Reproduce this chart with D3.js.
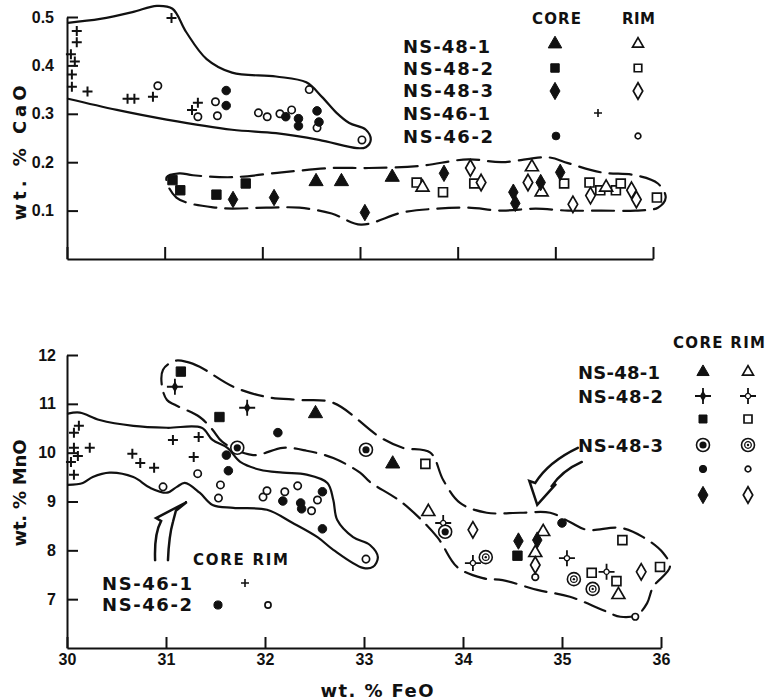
<!doctype html>
<html lang="en">
<head>
	<meta charset="utf-8">
	<title>CaO and MnO vs FeO</title>
	<style>
html, body {
	margin: 0;
	padding: 0;
	width: 100%;
	height: 100%;
	overflow: hidden;
	background: #fff;
}
svg {
	display: block;
}
svg text {
	font-family: 'Liberation Sans', Arial, sans-serif;
	font-weight: bold;
	fill: #111;
}
svg text.big {
	font-family: 'DejaVu Sans', sans-serif;
}
.env {
	fill: none;
	stroke: #111;
	stroke-width: 2.2px;
	stroke-linejoin: round;
	stroke-linecap: round;
}
.env.dash {
	stroke-dasharray: 22 9;
}
.arrow {
	fill: none;
	stroke: #111;
	stroke-width: 2.5px;
	stroke-linejoin: miter;
	stroke-linecap: round;
}
	</style>
</head>
<body>
	<div id="container"></div>

	<script src="https://cdnjs.cloudflare.com/ajax/libs/d3/7.8.5/d3.min.js"></script>
	<script>
/* DATA - each point is [wt.% FeO, wt.% oxide] */

var feoTicks = [30, 31, 32, 33, 34, 35, 36];
var caoTicks = [0.1, 0.2, 0.3, 0.4, 0.5];
var mnoTicks = [7, 8, 9, 10, 11, 12];

// upper panel : CaO
var cao46_1 = [[30.04, 0.423], [30.10, 0.471], [30.10, 0.448], [30.08, 0.408], [30.05, 0.381], [30.05, 0.356],
	[30.21, 0.346], [30.62, 0.331], [30.69, 0.331], [30.88, 0.335], [31.07, 0.498], [31.28, 0.308], [31.34, 0.323]];
var cao46_2Core = [[31.63, 0.348], [31.63, 0.317], [32.24, 0.294], [32.37, 0.290], [32.37, 0.275], [32.56, 0.306], [32.58, 0.283]];
var cao46_2Rim = [[30.93, 0.358], [31.34, 0.294], [31.52, 0.325], [31.54, 0.296], [31.96, 0.302], [32.05, 0.294],
	[32.18, 0.300], [32.30, 0.308], [32.48, 0.350], [32.56, 0.271], [33.02, 0.246]];
var cao48_1Core = [[32.55, 0.160], [32.81, 0.160], [33.33, 0.169]];
var cao48_1Rim = [[33.64, 0.148], [34.76, 0.190], [34.86, 0.138], [35.52, 0.148]];
var cao48_2Core = [[31.08, 0.163], [31.16, 0.142], [31.53, 0.133], [31.83, 0.156]];
var cao48_2Rim = [[33.58, 0.158], [33.85, 0.138], [34.17, 0.156], [35.09, 0.156], [35.35, 0.158], [35.46, 0.142],
	[35.62, 0.142], [35.67, 0.156], [36.04, 0.127]];
var cao48_3Core = [[31.70, 0.123], [32.12, 0.127], [33.05, 0.096], [33.86, 0.177], [34.57, 0.138], [34.59, 0.115],
	[34.85, 0.158], [35.05, 0.179]];
var cao48_3Rim = [[34.13, 0.188], [34.24, 0.158], [34.72, 0.158], [35.18, 0.113], [35.36, 0.131], [35.78, 0.142], [35.83, 0.123]];

var caoField46 = [[30.01, 0.488], [30.34, 0.496], [30.67, 0.510], [30.92, 0.523], [31.08, 0.517], [31.22, 0.469],
	[31.43, 0.413], [31.69, 0.385], [32.14, 0.377], [32.45, 0.365], [32.61, 0.335], [32.76, 0.302], [32.89, 0.281],
	[33.06, 0.267], [33.11, 0.246], [33.06, 0.231], [32.97, 0.229], [32.58, 0.246], [32.14, 0.260], [31.69, 0.267],
	[31.02, 0.288], [30.51, 0.308], [30.01, 0.331]];
var caoField48 = [[31.02, 0.169], [31.15, 0.177], [31.29, 0.173], [31.69, 0.169], [32.20, 0.179], [32.71, 0.188],
	[33.09, 0.188], [33.60, 0.192], [34.11, 0.206], [34.45, 0.200], [34.93, 0.210], [35.13, 0.198], [35.47, 0.179],
	[35.82, 0.173], [36.05, 0.156], [36.13, 0.127], [36.05, 0.106], [35.82, 0.100], [35.47, 0.100], [35.13, 0.100],
	[34.80, 0.104], [34.45, 0.100], [34.11, 0.106], [33.78, 0.104], [33.43, 0.096], [33.01, 0.071], [32.71, 0.094],
	[32.38, 0.106], [32.04, 0.106], [31.53, 0.106], [31.12, 0.127]];

// lower panel : MnO
var mno46_1 = [[30.12, 10.55], [30.07, 10.41], [30.23, 10.10], [30.07, 10.10], [30.11, 9.93], [30.04, 9.81], [30.07, 9.55],
	[30.66, 9.98], [30.74, 9.79], [30.88, 9.69], [31.07, 10.26], [31.33, 10.32], [31.28, 9.91]];
var mno46_2Core = [[31.61, 9.95], [31.63, 9.63], [32.18, 9.01], [32.36, 8.97], [32.37, 8.85], [32.58, 9.20], [32.58, 8.44]];
var mno46_2Rim = [[30.97, 9.30], [31.32, 9.57], [31.55, 9.34], [31.53, 9.07], [31.98, 9.09], [32.02, 9.22], [32.20, 9.20],
	[32.33, 9.32], [32.53, 9.03], [32.47, 8.81], [33.02, 7.82]];
var mno48_1Core = [[32.51, 10.80], [33.29, 9.77]];
var mno48_1Rim = [[33.65, 8.79], [34.81, 8.38], [34.73, 7.95], [35.57, 7.09]];
var mno48_2Core = [[31.09, 11.35], [31.82, 10.92]];
var mno48_2Rim = [[33.80, 8.56], [34.10, 7.74], [35.05, 7.84], [35.45, 7.56]];
var mno48_2bCore = [[31.15, 11.66], [31.54, 10.73], [34.55, 7.89]];
var mno48_2bRim = [[33.62, 9.77], [35.61, 8.21], [35.99, 7.66], [35.30, 7.54], [35.55, 7.37]];
var mno48_3Core = [[31.72, 10.10], [33.02, 10.06], [33.82, 8.38]];
var mno48_3Rim = [[34.23, 7.86], [35.12, 7.41], [35.31, 7.21]];
var mno48_3bCore = [[32.13, 10.41], [35.00, 8.56]];
var mno48_3bRim = [[34.73, 7.45], [35.74, 6.64]];
var mno48_3cCore = [[34.56, 8.19], [34.75, 8.21]];
var mno48_3cRim = [[34.10, 8.42], [34.73, 7.70], [35.80, 7.56]];

var mnoField46 = [[30.01, 10.80], [30.13, 10.82], [30.33, 10.67], [30.67, 10.55], [31.01, 10.51], [31.36, 10.51],
	[31.47, 10.26], [31.62, 10.10], [31.75, 9.81], [31.95, 9.65], [32.18, 9.59], [32.42, 9.55], [32.63, 9.38],
	[32.69, 9.03], [32.73, 8.62], [32.89, 8.27], [33.06, 8.11], [33.14, 7.86], [33.09, 7.66], [32.99, 7.64],
	[32.69, 8.01], [32.53, 8.27], [32.28, 8.56], [32.02, 8.83], [31.68, 8.87], [31.47, 8.93], [31.34, 9.18],
	[31.19, 9.38], [31.11, 9.30], [31.01, 9.18], [30.84, 9.28], [30.67, 9.50], [30.43, 9.59], [30.26, 9.50],
	[30.16, 9.38], [30.01, 9.34]];
var mnoField48 = [[31.09, 11.88], [31.21, 11.86], [31.34, 11.76], [31.68, 11.35], [32.02, 11.14], [32.35, 11.08],
	[32.69, 11.02], [33.16, 10.32], [33.39, 10.10], [33.67, 10.00], [33.80, 9.44], [33.97, 8.97], [34.24, 8.77],
	[34.58, 8.77], [34.88, 8.77], [35.08, 8.58], [35.25, 8.42], [35.59, 8.46], [35.82, 8.27], [36.02, 7.95],
	[36.09, 7.66], [35.92, 7.25], [35.86, 6.92], [35.76, 6.68], [35.59, 6.64], [35.41, 6.78], [35.08, 7.05],
	[34.75, 7.19], [34.40, 7.39], [34.20, 7.43], [33.94, 7.66], [33.74, 8.27], [33.39, 8.97], [33.06, 9.40],
	[32.96, 9.59], [32.69, 9.89], [32.42, 10.04], [32.18, 10.10], [31.88, 9.95], [31.57, 10.22], [31.47, 10.47],
	[31.34, 10.73], [31.09, 10.98], [31.01, 11.08], [30.96, 11.35], [30.97, 11.70]];

// curved pointer arrows: start, ctrl, shaft top, barb, tip, notch, shaft top, ctrl, end
var arrow46 = [[30.89, 7.80], [30.88, 8.34], [30.95, 8.60], [30.90, 8.66], [31.21, 8.99], [31.10, 8.81],
	[31.07, 8.58], [31.03, 8.30], [31.02, 7.80]];
var arrow48 = [[35.16, 10.10], [34.86, 9.81], [34.73, 9.38], [34.67, 9.42], [34.75, 8.93], [34.94, 9.36],
	[34.89, 9.30], [35.00, 9.63], [35.20, 9.81]];

(function _fig(d3) {

	'use strict';

	/* CONST */

	var INK = '#111';

	var W = 767, H = 700;

	var SHAPES = {
		triangle: d3.symbolTriangle,
		square: d3.symbolSquare,
		diamond: d3.symbolDiamond,
		circle: d3.symbolCircle
	};
	var SIZES = {
		triangle: 72,
		square: 88,
		diamond: 78,
		circle: 52
	};

	var xTop = d3.scaleLinear().domain([30, 36]).range([67, 653]);
	var yTop = d3.scaleLinear().domain([0, 0.5]).range([259, 17]);
	var xBot = d3.scaleLinear().domain([30, 36]).range([67, 661]);
	var yBot = d3.scaleLinear().domain([6, 12]).range([648, 355]);

	var svg = d3.select('#container')
		.append('svg')
			.attr('width', W)
			.attr('height', H);


	/* MARKS */

	var drawMark = function (g, kind, filled, k) {
		k = k || 1;
		if (SHAPES[kind]) {
			g.append('path')
				.attr('d', d3.symbol(SHAPES[kind], SIZES[kind] * k * k)())
				.attr('fill', filled ? INK : '#fff')
				.attr('stroke', INK)
				.attr('stroke-width', filled ? 1 : 1.7);
		} else if (kind === 'plus') {
			g.append('path')
				.attr('d', 'M-5,0H5M0,-5V5')
				.attr('transform', 'scale(' + k + ')')
				.attr('stroke', INK)
				.attr('stroke-width', 2);
		} else if (kind === 'star') {
			g.append('path')
				.attr('d', 'M-8,0H8M0,-8V8')
				.attr('stroke', INK)
				.attr('stroke-width', 1.8);
			if (filled) {
				g.append('path')
					.attr('d', d3.symbol(d3.symbolDiamond, 36)())
					.attr('fill', INK);
			} else {
				g.append('circle').attr('r', 2.6)
					.attr('fill', '#fff').attr('stroke', INK).attr('stroke-width', 1.3);
			}
		} else if (kind === 'bull') {
			g.append('circle').attr('r', 6.5)
				.attr('fill', '#fff').attr('stroke', INK).attr('stroke-width', 1.6);
			if (filled) {
				g.append('circle').attr('r', 3.6).attr('fill', INK);
			} else {
				g.append('circle').attr('r', 3.3)
					.attr('fill', '#fff').attr('stroke', INK).attr('stroke-width', 1.3);
				g.append('circle').attr('r', 1.2).attr('fill', INK);
			}
		}
	};

	var plot = function (g, data, x, y, kind, filled, k) {
		g.append('g')
			.selectAll('g')
			.data(data)
			.enter()
			.append('g')
				.attr('transform', function (d) { return 'translate(' + x(d[0]) + ',' + y(d[1]) + ')'; })
				.each(function () { drawMark(d3.select(this), kind, filled, k); });
	};

	var legendMark = function (g, px, py, kind, filled, k) {
		drawMark(g.append('g').attr('transform', 'translate(' + px + ',' + py + ')'), kind, filled, k);
	};

	var label = function (g, txt, px, py, size, len, anchor) {
		var t = g.append('text')
			.attr('class', 'big')
			.attr('x', px)
			.attr('y', py)
			.attr('font-size', size)
			.attr('text-anchor', anchor || 'start')
			.text(txt);
		if (len) {
			t.attr('textLength', len).attr('lengthAdjust', 'spacing');
		}
		return t;
	};

	var styleAxis = function (g, size) {
		g.attr('font-family', null).attr('font-size', size);
		g.selectAll('.domain, .tick line').attr('stroke', INK).attr('stroke-width', 2);
		g.selectAll('text').attr('fill', INK);
	};

	var field = function (g, data, x, y, closed, dashed) {
		var line = d3.line()
			.x(function (d) { return x(d[0]); })
			.y(function (d) { return y(d[1]); })
			.curve(closed ? d3.curveCatmullRomClosed.alpha(0.5) : d3.curveCatmullRom.alpha(0.5));
		g.append('path')
			.attr('class', dashed ? 'env dash' : 'env')
			.attr('d', line(data));
	};

	var arrow = function (g, pts, x, y) {
		var p = pts.map(function (d) { return [x(d[0]), y(d[1])]; });
		var path = d3.path();
		path.moveTo(p[0][0], p[0][1]);
		path.quadraticCurveTo(p[1][0], p[1][1], p[2][0], p[2][1]);
		path.lineTo(p[3][0], p[3][1]);
		path.lineTo(p[4][0], p[4][1]);
		path.lineTo(p[5][0], p[5][1]);
		path.lineTo(p[6][0], p[6][1]);
		path.quadraticCurveTo(p[7][0], p[7][1], p[8][0], p[8][1]);
		g.append('path').attr('class', 'arrow').attr('d', path.toString());
	};


	/* UPPER PANEL : CaO */

	var drawTop = function () {
		var g = svg.append('g');

		g.append('g')
			.attr('transform', 'translate(0,' + yTop(0) + ')')
			.call(d3.axisBottom(xTop).tickValues(feoTicks).tickSizeInner(-12).tickSizeOuter(0).tickFormat(''))
			.call(styleAxis, 15);

		g.append('g')
			.attr('transform', 'translate(' + xTop(30) + ',0)')
			.call(d3.axisLeft(yTop).tickValues(caoTicks).tickSizeInner(-11).tickSizeOuter(0)
				.tickPadding(13).tickFormat(d3.format('.1f')))
			.call(styleAxis, 16);

		label(g, 'wt. % CaO', 0, 0, 18, 135, 'middle')
			.attr('transform', 'translate(26,153) rotate(-90)');

		field(g, caoField46, xTop, yTop, false, false);
		field(g, caoField48, xTop, yTop, true, true);

		plot(g, cao46_1, xTop, yTop, 'plus', true);
		plot(g, cao46_2Rim, xTop, yTop, 'circle', false, 0.9);
		plot(g, cao46_2Core, xTop, yTop, 'circle', true, 1.05);
		plot(g, cao48_2Rim, xTop, yTop, 'square', false, 0.95);
		plot(g, cao48_1Rim, xTop, yTop, 'triangle', false, 1);
		plot(g, cao48_3Rim, xTop, yTop, 'diamond', false, 1);
		plot(g, cao48_2Core, xTop, yTop, 'square', true, 1);
		plot(g, cao48_1Core, xTop, yTop, 'triangle', true, 1.1);
		plot(g, cao48_3Core, xTop, yTop, 'diamond', true, 1);

		// legend
		var lg = g.append('g');
		label(lg, 'CORE', 532, 24, 15, 49);
		label(lg, 'RIM', 622, 24, 15, 33);
		label(lg, 'NS-48-1', 403, 53, 18, 87);
		label(lg, 'NS-48-2', 403, 75, 18, 90);
		label(lg, 'NS-48-3', 403, 97, 18, 90);
		label(lg, 'NS-46-1', 403, 120, 18, 87);
		label(lg, 'NS-46-2', 403, 143, 18, 90);
		legendMark(lg, 555, 44, 'triangle', true, 1.05);
		legendMark(lg, 638, 44, 'triangle', false, 0.85);
		legendMark(lg, 555, 68, 'square', true, 0.9);
		legendMark(lg, 638, 68, 'square', false, 0.8);
		legendMark(lg, 555, 91, 'diamond', true, 1.05);
		legendMark(lg, 638, 91, 'diamond', false, 1);
		legendMark(lg, 598, 113, 'plus', true, 0.8);
		legendMark(lg, 556, 136, 'circle', true, 0.95);
		legendMark(lg, 638, 136, 'circle', false, 0.7);
	};


	/* LOWER PANEL : MnO */

	var drawBottom = function () {
		var g = svg.append('g');

		g.append('g')
			.attr('transform', 'translate(0,' + yBot(6) + ')')
			.call(d3.axisBottom(xBot).tickValues(feoTicks).tickSizeInner(-11).tickSizeOuter(0)
				.tickPadding(6).tickFormat(d3.format('d')))
			.call(styleAxis, 16);

		g.append('g')
			.attr('transform', 'translate(' + xBot(30) + ',0)')
			.call(d3.axisLeft(yBot).tickValues(mnoTicks).tickSizeInner(-11).tickSizeOuter(0)
				.tickPadding(11).tickFormat(d3.format('d')))
			.call(styleAxis, 16);

		label(g, 'wt. % MnO', 0, 0, 18, 107, 'middle')
			.attr('transform', 'translate(26,493) rotate(-90)');
		label(g, 'wt. % FeO', 377, 697, 18, 113, 'middle');

		field(g, mnoField46, xBot, yBot, false, false);
		field(g, mnoField48, xBot, yBot, true, true);

		arrow(g, arrow46, xBot, yBot);
		arrow(g, arrow48, xBot, yBot);

		plot(g, mno46_1, xBot, yBot, 'plus', true);
		plot(g, mno46_2Rim, xBot, yBot, 'circle', false, 0.9);
		plot(g, mno46_2Core, xBot, yBot, 'circle', true, 1.05);
		plot(g, mno48_3bRim, xBot, yBot, 'circle', false, 0.8);
		plot(g, mno48_3bCore, xBot, yBot, 'circle', true, 1.05);
		plot(g, mno48_1Rim, xBot, yBot, 'triangle', false, 1);
		plot(g, mno48_2bRim, xBot, yBot, 'square', false, 0.95);
		plot(g, mno48_3cRim, xBot, yBot, 'diamond', false, 1);
		plot(g, mno48_2Rim, xBot, yBot, 'star', false);
		plot(g, mno48_3Rim, xBot, yBot, 'bull', false);
		plot(g, mno48_3Core, xBot, yBot, 'bull', true);
		plot(g, mno48_2bCore, xBot, yBot, 'square', true, 1);
		plot(g, mno48_3cCore, xBot, yBot, 'diamond', true, 1);
		plot(g, mno48_1Core, xBot, yBot, 'triangle', true, 1.1);
		plot(g, mno48_2Core, xBot, yBot, 'star', true);

		// right legend
		var lg = g.append('g');
		label(lg, 'CORE RIM', 673, 348, 15, 92);
		label(lg, 'NS-48-1', 578, 379, 18, 82);
		label(lg, 'NS-48-2', 578, 403, 18, 85);
		label(lg, 'NS-48-3', 578, 452, 18, 85);
		legendMark(lg, 703, 372, 'triangle', true, 0.95);
		legendMark(lg, 748, 372, 'triangle', false, 0.85);
		legendMark(lg, 703, 396, 'star', true);
		legendMark(lg, 748, 396, 'star', false);
		legendMark(lg, 703, 419, 'square', true, 0.85);
		legendMark(lg, 748, 419, 'square', false, 0.85);
		legendMark(lg, 703, 445, 'bull', true);
		legendMark(lg, 748, 445, 'bull', false);
		legendMark(lg, 703, 469, 'circle', true, 0.9);
		legendMark(lg, 748, 469, 'circle', false, 0.7);
		legendMark(lg, 703, 495, 'diamond', true, 1.05);
		legendMark(lg, 748, 495, 'diamond', false, 1);

		// left legend
		var ll = g.append('g');
		label(ll, 'CORE RIM', 193, 565, 15, 95);
		label(ll, 'NS-46-1', 102, 590, 18, 90);
		label(ll, 'NS-46-2', 102, 611, 18, 90);
		legendMark(ll, 245, 583, 'plus', true, 0.8);
		legendMark(ll, 218, 605, 'circle', true, 1);
		legendMark(ll, 268, 605, 'circle', false, 0.75);
	};


	/* BOOTSTRAP */

	drawTop();
	drawBottom();

})(window.d3);
	</script>
</body>
</html>
